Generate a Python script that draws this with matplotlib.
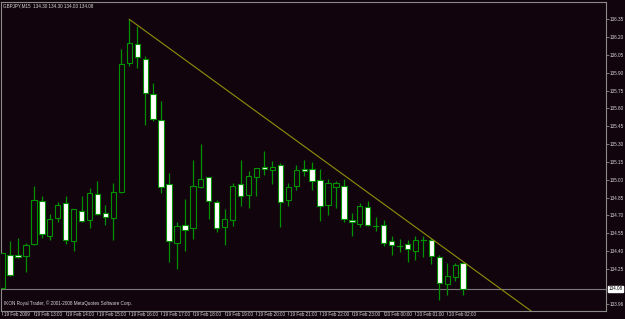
import matplotlib
matplotlib.use("Agg")
import matplotlib.pyplot as plt
from matplotlib.patches import Rectangle

# ---------------- data (GBPJPY M15, 19 Feb 2009 12:00 -> 20 Feb 02:30) ----------------
opens = [134.09, 134.37, 134.37, 134.36, 134.46, 134.82, 134.53, 134.68, 134.80, 134.48,
         134.74, 134.66, 134.88, 134.72, 134.68, 134.90, 135.98, 136.14, 136.02, 135.72,
         135.50, 134.96, 134.47, 134.62, 134.59, 134.94, 135.02, 134.81, 134.60, 134.66,
         134.96, 134.87, 135.02, 135.11, 135.08, 135.12, 134.83, 134.95, 135.09, 135.09,
         135.00, 134.79, 134.94, 134.95, 134.66, 134.63, 134.77, 134.61, 134.62, 134.48,
         134.44, 134.46, 134.40, 134.49, 134.49, 134.35, 134.12, 134.18, 134.30]
highs = [134.38, 134.48, 134.51, 134.47, 134.95, 134.86, 134.71, 134.81, 134.86, 134.75,
         134.86, 134.93, 134.99, 134.79, 134.97, 136.10, 136.35, 136.29, 136.04, 135.81,
         135.66, 135.06, 134.64, 134.84, 135.17, 135.30, 135.02, 134.83, 134.75, 134.97,
         135.17, 135.07, 135.10, 135.24, 135.16, 135.14, 134.97, 135.12, 135.17, 135.15,
         135.09, 135.01, 134.99, 135.01, 134.72, 134.80, 134.82, 134.69, 134.66, 134.53,
         134.50, 134.49, 134.53, 134.53, 134.51, 134.37, 134.30, 134.30, 134.30]
lows = [134.09, 134.19, 134.34, 134.22, 134.45, 134.51, 134.49, 134.64, 134.46, 134.40,
        134.64, 134.59, 134.70, 134.62, 134.49, 134.89, 135.96, 135.94, 135.46, 135.49,
        134.89, 134.31, 134.25, 134.40, 134.50, 134.93, 134.67, 134.56, 134.45, 134.61,
        134.78, 134.76, 134.86, 135.04, 134.96, 134.60, 134.78, 134.91, 135.03, 134.91,
        134.65, 134.70, 134.76, 134.64, 134.53, 134.60, 134.61, 134.57, 134.44, 134.37,
        134.39, 134.31, 134.32, 134.35, 134.29, 133.99, 134.03, 134.15, 134.03]
closes = [134.38, 134.20, 134.35, 134.45, 134.83, 134.54, 134.67, 134.79, 134.49, 134.75,
          134.65, 134.89, 134.71, 134.69, 134.90, 135.97, 136.15, 136.03, 135.73, 135.51,
          134.94, 134.48, 134.61, 134.58, 134.95, 135.01, 134.82, 134.59, 134.67, 134.95,
          134.86, 135.03, 135.10, 135.09, 135.11, 134.81, 134.94, 135.08, 135.07, 134.99,
          134.78, 134.97, 134.97, 134.67, 134.64, 134.78, 134.62, 134.61, 134.47, 134.45,
          134.44, 134.42, 134.49, 134.49, 134.36, 134.13, 134.19, 134.28, 134.08]

time_labels = ["19 Feb 2009", "19 Feb 13:00", "19 Feb 14:00", "19 Feb 15:00", "19 Feb 16:00",
               "19 Feb 17:00", "19 Feb 18:00", "19 Feb 19:00", "19 Feb 20:00", "19 Feb 21:00",
               "19 Feb 22:00", "19 Feb 23:00", "20 Feb 00:00", "20 Feb 01:00", "20 Feb 02:00"]
bars_per_label = 4

price_ticks = [136.35, 136.20, 136.05, 135.90, 135.75, 135.60, 135.45, 135.30, 135.15,
               135.00, 134.85, 134.70, 134.55, 134.40, 134.25, 133.95]
price_labels = ["136.35", "136.20", "136.05", "135.90", "135.75", "135.60", "135.45", "135.30",
                "135.15", "135.00", "134.85", "134.70", "134.55", "134.40", "134.25", "133.96"]

current_price = 134.08
trend_bars = [16, 58]
trend_prices = [136.35, 134.31]

title_text = "GBPJPY,M15  134.30 134.30 134.03 134.08"
footer_text = "IKON Royal Trader, \u00a9 2001-2008 MetaQuotes Software Corp."

# ---------------- style ----------------
BG = "#12040c"
GREEN = "#009200"
GRID = "#8a8a8a"
TXT = "#d8d8d8"
TREND = "#8f8f0a"
FONT = "Liberation Sans"
FS = 3.3

fig = plt.figure(figsize=(6.25, 3.19), dpi=100, facecolor=BG)
W, H = 625, 319
ax = fig.add_axes([0.6 / W, (H - 310.5) / H, (606 - 0.6) / W, (310.5 - 1.5) / H])
ax.set_facecolor(BG)

n = len(opens)
body_w = 0.67
for k in range(n):
    o, h, l, c = opens[k], highs[k], lows[k], closes[k]
    ax.plot([k, k], [l, h], color=GREEN, lw=0.9, zorder=2, solid_capstyle="butt")
    lo, hi = min(o, c), max(o, c)
    if abs(c - o) < 1e-9:
        ax.plot([k - body_w / 2, k + body_w / 2], [o, o], color=GREEN, lw=0.9, zorder=3)
    else:
        face = "white" if c < o else BG
        ax.add_patch(Rectangle((k - body_w / 2, lo), body_w, hi - lo, facecolor=face,
                               edgecolor=GREEN, lw=0.8, zorder=3))

# trend line (ray)
slope = (trend_prices[1] - trend_prices[0]) / (trend_bars[1] - trend_bars[0])
x_end = 90
ax.plot([trend_bars[0], x_end], [trend_prices[0], trend_prices[0] + slope * (x_end - trend_bars[0])],
        color=TREND, lw=0.8, zorder=4)

# current price line
ax.axhline(current_price, color="#7a7a7a", lw=0.8, zorder=1)

ax.set_xlim(-0.19, 75.97)
ax.set_ylim(133.899, 136.50)

for s in ax.spines.values():
    s.set_color(GRID)
    s.set_linewidth(0.8)

# y axis on right
ax.yaxis.tick_right()
ax.set_yticks(price_ticks)
ax.set_yticklabels(price_labels, fontsize=FS, color=TXT, family=FONT)
ax.tick_params(axis="y", direction="out", length=2.2, width=0.6, color=GRID, pad=0.8)

# x axis ticks at each hour
tick_pos = [i * bars_per_label for i in range(len(time_labels))]
ax.set_xticks(tick_pos)
ax.set_xticklabels([])
ax.tick_params(axis="x", direction="out", length=3, width=0.6, color=GRID)
for p, lab in zip(tick_pos, time_labels):
    ax.annotate(lab, xy=(p, 0), xycoords=("data", "axes fraction"), xytext=(1.5, -4.5),
                textcoords="offset pixels", ha="left", va="center", fontsize=FS,
                color=TXT, family=FONT, annotation_clip=False)

# current price box
ax.annotate("134.08", xy=(1, current_price), xycoords=("axes fraction", "data"),
            xytext=(2.5, 0), textcoords="offset pixels", ha="left", va="center",
            fontsize=FS, color="black", family=FONT, annotation_clip=False,
            bbox=dict(boxstyle="square,pad=0.15", facecolor="white", edgecolor="white"))

fig.text(3 / W, 1 - 5.5 / H, title_text, fontsize=FS, color=TXT, family=FONT,
         ha="left", va="center")
ax.text(3 / 605, 0.015, footer_text, transform=ax.transAxes, fontsize=FS, color=TXT,
        family=FONT, ha="left", va="bottom")

fig.savefig("out.png", dpi=100, facecolor=BG)
